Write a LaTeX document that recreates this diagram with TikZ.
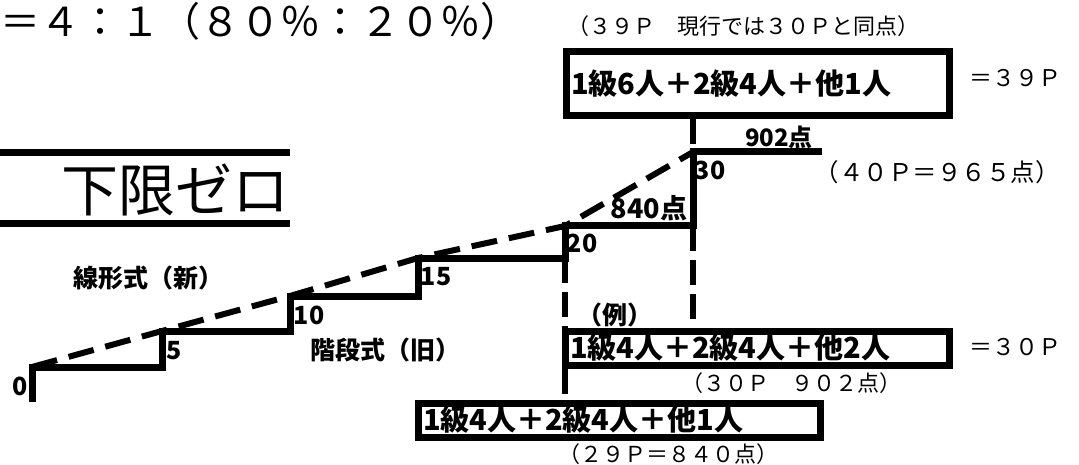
\documentclass[tikz,border=0pt]{standalone}
\usepackage{fontspec}
\setmainfont{Noto Sans CJK JP}
\usepackage{tikz}

\tikzset{
  stair/.style={line width=7pt},
  linear/.style={line width=6pt, dash pattern=on 26pt off 12pt},
  guide/.style={line width=6pt, dash pattern=on 25pt off 9pt},
  member/.style={draw, line width=7pt, inner xsep=5pt, inner ysep=0pt, align=left,
    font=\fontsize{29}{29}\selectfont\bfseries},
  steplabel/.style={font=\fontsize{25}{25}\selectfont\bfseries, inner sep=0pt},
  kind/.style={font=\fontsize{25}{25}\selectfont\bfseries, inner sep=0pt},
  note/.style={font=\fontsize{22}{22}\selectfont, inner sep=0pt},
}

\begin{document}
\begin{tikzpicture}[x=1pt, y=-1pt]
\useasboundingbox (0,0) rectangle (1079,465);

% ratio line at the top
\node[anchor=base west, inner sep=0pt, font=\fontsize{40}{40}\selectfont] (ratio) at (0,37) {＝４：１（８０％：２０％）};

% lower limit zero
\node[inner sep=0pt, font=\fontsize{57}{57}\selectfont] (zero) at (175,190) {下限ゼロ};
\draw[line width=7pt] (0,153) -- (290,153);
\draw[line width=7pt] (0,223.5) -- (290,223.5);

% step corners
\coordinate (c0) at (32,402);
\coordinate (c1) at (32,367);
\coordinate (c2) at (162,367);
\coordinate (c3) at (162,331);
\coordinate (c4) at (290,331);
\coordinate (c5) at (290,296);
\coordinate (c6) at (418,296);
\coordinate (c7) at (418,258);
\coordinate (c8) at (565,258);
\coordinate (c9) at (565,226);
\coordinate (c10) at (693,226);
\coordinate (c11) at (693,152);
\coordinate (c12) at (822,152);

% old: steps
\draw[stair] (c0) -- (c1) -- (c2) -- (c3) -- (c4) -- (c5) -- (c6) -- (c7) -- (c8) -- (c9) -- (c10) -- (c11) -- (c12);
% new: linear
\draw[linear] (c1) -- (c3) -- (c5) -- (c7) -- (c9) -- (c11);

\node[steplabel] (n0) at (20,386) {0};
\node[steplabel] (n5) at (174,351) {5};
\node[steplabel] (n10) at (309,315) {10};
\node[steplabel] (n15) at (436,277) {15};
\node[steplabel] (n20) at (582,243) {20};
\node[steplabel] (n30) at (710,170) {30};

\node[steplabel, font=\fontsize{24}{24}\selectfont\bfseries] (p902) at (779,137) {902点};
\node[steplabel, font=\fontsize{27}{27}\selectfont\bfseries] (p840) at (649,208) {840点};

\node[kind] (linearname) at (148,278) {線形式（新）};
\node[kind] (stairname) at (385,350) {階段式（旧）};
\node[kind] (example) at (615,315) {（例）};

% member boxes
\node[member, text width=373pt, minimum height=64pt] (top) at (757.5,84) {1級6人＋2級4人＋他1人};
\node[member, text width=374pt, minimum height=34pt] (mid) at (757,348) {1級4人＋2級4人＋他2人};
\node[member, text width=392pt, minimum height=34pt] (low) at (619,420) {1級4人＋2級4人＋他1人};

\node[note] (topnote) at (743,26) {（３９Ｐ　現行では３０Ｐと同点）};
\node[note, font=\fontsize{23}{23}\selectfont] (toppts) at (1015,78) {＝３９Ｐ};
\node[note, font=\fontsize{24.5}{24.5}\selectfont] (fortypts) at (937,172) {（４０Ｐ＝９６５点）};
\node[note, font=\fontsize{23}{23}\selectfont] (midpts) at (1015,347) {＝３０Ｐ};
\node[note] (midnote) at (791,383) {（３０Ｐ　９０２点）};
\node[note] (lownote) at (668,454) {（２９Ｐ＝８４０点）};

% guides
\draw[guide] (top.south -| c11) -- (c11);
\draw[guide] (c10) -- (c10 |- mid.north);
\draw[guide] (c8) -- (c8 |- mid.north);
\draw[guide] (c8 |- mid.south) -- (c8 |- low.north);
\end{tikzpicture}
\end{document}
